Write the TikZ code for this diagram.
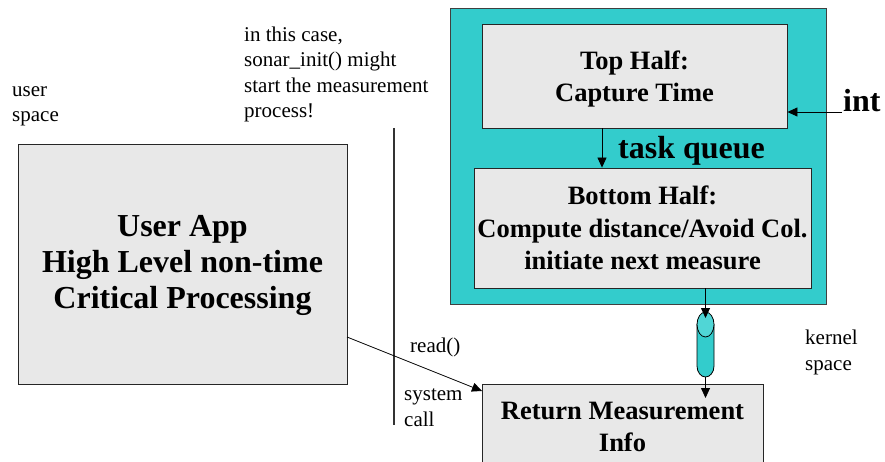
\documentclass[tikz,border=0pt]{standalone}
\usepackage{fontspec}
\setmainfont{Liberation Serif}
\usetikzlibrary{arrows.meta,shapes.geometric}
\definecolor{tealfill}{RGB}{51,204,204}
\definecolor{tealtop}{RGB}{80,214,214}
\definecolor{boxgray}{RGB}{232,232,232}
\tikzset{
  graybox/.style={draw=black!85, fill=boxgray, line width=0.9pt, inner sep=0pt},
  boxtext/.style={inner sep=0pt, align=center, anchor=base, font=\bfseries\fontsize{26.5}{32}\selectfont},
  bigtext/.style={inner sep=0pt, align=center, anchor=base, font=\bfseries\fontsize{32}{36}\selectfont},
  small/.style={inner sep=0pt, align=left, anchor=base west, font=\fontsize{21}{25.5}\selectfont},
  bigbold/.style={inner sep=0pt, anchor=base west, font=\bfseries\fontsize{32}{36}\selectfont},
  arr/.style={line width=0.8pt, -{Triangle[length=10pt,width=9pt]}},
}
\begin{document}
\begin{tikzpicture}[x=1pt,y=-1pt]
\useasboundingbox (0,0) rectangle (885,462);
\clip (0,0) rectangle (885,462);
% outer teal box
\node[draw=black!75, fill=tealfill, line width=0.9pt, minimum width=376pt, minimum height=296pt, inner sep=0pt] (kern) at (638.5,156.5) {};
% top half
\node[graybox, minimum width=305pt, minimum height=104pt] (top) at (634.5,76) {};
\node[boxtext] (toptext) at (634.5,102) {Top Half:\\Capture Time};
% bottom half
\node[graybox, minimum width=337pt, minimum height=120pt] (bot) at (642.5,228) {};
\node[boxtext] (bottext) at (642.5,269) {Bottom Half:\\Compute distance/Avoid Col.\\initiate next measure};
% user app
\node[graybox, minimum width=329pt, minimum height=240pt] (app) at (182.5,264) {};
\node[bigtext] (apptext) at (182.5,308) {User App\\High Level non-time\\Critical Processing};
% return box (extends below page)
\node[graybox, minimum width=281pt, minimum height=110pt, anchor=north] (ret) at (622.5,384) {};
\node[boxtext] (rettext) at (622.5,451) {Return Measurement\\Info};
% labels
\node[small] (user) at (12,122) {user\\space};
\node[small] (note) at (244,118) {in this case,\\sonar\_init() might\\start the measurement\\process!};
\node[small] (kspace) at (805,370) {kernel\\space};
\node[small] (readl) at (410,352) {read()};
\node[small] (sys) at (404,426) {system\\call};
\node[bigbold] (int) at (843,112) {int};
\node[bigbold] (tq) at (618,159) {task queue};
% divider
\coordinate (d1) at (394,128);
\coordinate (d2) at (394,425);
\draw[line width=1.2pt, black!80] (d1) -- (d2);
% cylinder (channel)
\coordinate (cylc) at (705.5,324.5);
\draw[fill=tealfill, line width=0.8pt] (697,324.5) -- (697,366) arc[start angle=180, end angle=360, x radius=8.5pt, y radius=11pt] -- (714,324.5) -- cycle;
\node[draw, fill=tealtop, ellipse, line width=0.8pt, minimum width=17pt, minimum height=25pt, inner sep=0pt] (cyl) at (cylc) {};
\coordinate (cylbot) at (705.5,377);
% connectors
\draw[arr] (top.south -| 602,0) -- (bot.north -| 602,0);
\coordinate (intstart) at (842,112);
\draw[arr] (intstart) -- (top.east |- intstart);
\draw[arr] (bot.south -| 705.5,0) -- (705.5,318);
\coordinate (rettip) at (705.5,398);
\draw[arr] (cylbot) -- (rettip);
\coordinate (appout) at (347,337);
\coordinate (retin) at (482,391);
\draw[arr] (appout) -- (retin);
\end{tikzpicture}
\end{document}
